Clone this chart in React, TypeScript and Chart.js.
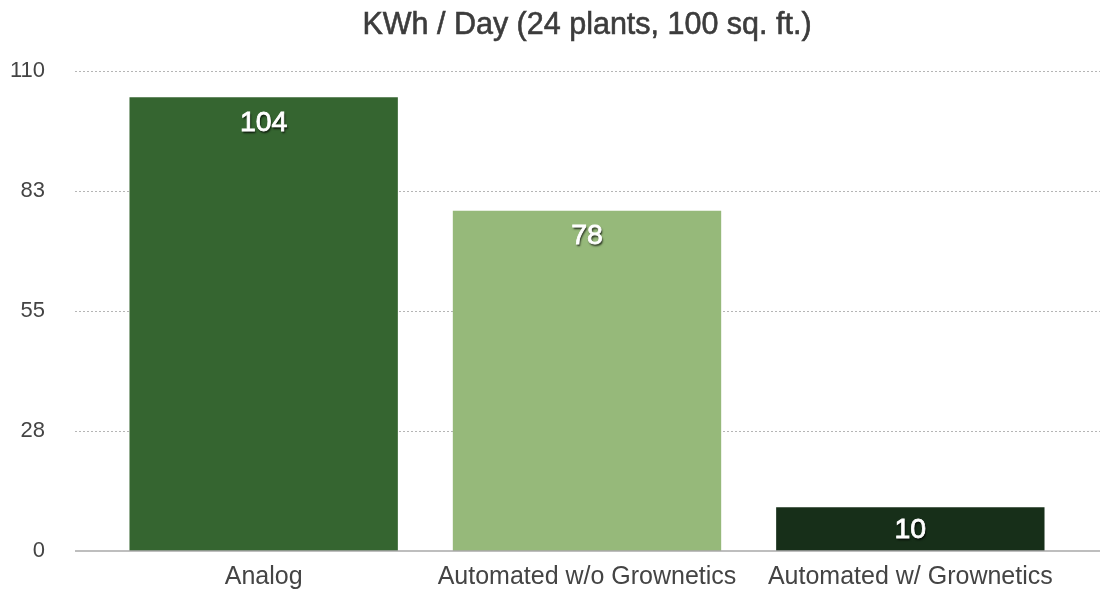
import { useEffect, useRef } from "react";
import { Chart, registerables } from "chart.js";

Chart.register(...registerables);

const chartTitle = "KWh / Day (24 plants, 100 sq. ft.)";
const categories = ["Analog", "Automated w/o Grownetics", "Automated w/ Grownetics"];
const kwhPerDay = [104, 78, 10];
const barColors = ["#356530", "#96b97a", "#172f19"];
const yTicks = [0, 27.5, 55, 82.5, 110];

const FONT = "'Liberation Sans', Arial, Helvetica, sans-serif";

// title, dotted grid, baseline and value labels
const decorPlugin = {
  id: "decor",
  beforeDatasetsDraw(chart: any) {
    const { ctx, chartArea, scales } = chart;
    const x0 = chartArea.left - 27;
    const x1 = chartArea.right + 28;
    ctx.save();
    ctx.strokeStyle = "#b5b5b5";
    ctx.lineWidth = 1;
    ctx.setLineDash([2, 2]);
    yTicks.forEach((v) => {
      if (v === 0) return;
      const y = Math.round(scales.y.getPixelForValue(v)) + 0.5;
      ctx.beginPath();
      ctx.moveTo(x0, y);
      ctx.lineTo(x1, y);
      ctx.stroke();
    });
    ctx.restore();

    ctx.save();
    ctx.font = `30.5px ${FONT}`;
    ctx.fillStyle = "#3c3c3c";
    ctx.strokeStyle = "#3c3c3c";
    ctx.lineWidth = 0.6;
    ctx.textAlign = "center";
    ctx.textBaseline = "middle";
    const cx = (chartArea.left + chartArea.right) / 2;
    ctx.fillText(chartTitle, cx, 26);
    ctx.strokeText(chartTitle, cx, 26);
    ctx.restore();
  },
  afterDatasetsDraw(chart: any) {
    const { ctx, chartArea, scales } = chart;
    ctx.save();
    ctx.strokeStyle = "#a8a8a8";
    ctx.lineWidth = 1.5;
    const y = scales.y.getPixelForValue(0);
    ctx.beginPath();
    ctx.moveTo(chartArea.left - 27, y);
    ctx.lineTo(chartArea.right + 28, y);
    ctx.stroke();

    const meta = chart.getDatasetMeta(0);
    ctx.font = `28.5px ${FONT}`;
    ctx.fillStyle = "#ffffff";
    ctx.strokeStyle = "#ffffff";
    ctx.lineWidth = 0.8;
    ctx.textAlign = "center";
    ctx.textBaseline = "middle";
    ctx.shadowColor = "rgba(0,0,0,0.8)";
    ctx.shadowOffsetX = 1;
    ctx.shadowOffsetY = 2;
    ctx.shadowBlur = 2;
    meta.data.forEach((bar: any, i: number) => {
      const ly = Math.min(bar.y + 25, (bar.y + bar.base) / 2);
      ctx.fillText(String(kwhPerDay[i]), bar.x, ly + 1);
      ctx.shadowColor = "transparent";
      ctx.strokeText(String(kwhPerDay[i]), bar.x, ly + 1);
      ctx.shadowColor = "rgba(0,0,0,0.8)";
    });
    ctx.restore();
  },
};

export default function App() {
  const ref = useRef<HTMLCanvasElement>(null);

  useEffect(() => {
    document.body.style.margin = "0";
    const chart = new Chart(ref.current as HTMLCanvasElement, {
      type: "bar",
      data: {
        labels: categories,
        datasets: [
          {
            data: kwhPerDay,
            backgroundColor: barColors,
            borderWidth: 0,
            categoryPercentage: 1,
            barPercentage: 0.83,
          },
        ],
      },
      options: {
        animation: false,
        responsive: false,
        layout: { autoPadding: false, padding: { left: 0, right: 38, top: 71, bottom: 0 } },
        plugins: {
          legend: { display: false },
          tooltip: { enabled: false },
          title: { display: false },
        },
        scales: {
          x: {
            grid: { display: false, drawTicks: false },
            border: { display: false },
            ticks: {
              color: "#444444",
              font: { family: FONT, size: 25 },
              padding: 11,
              maxRotation: 0,
              autoSkip: false,
            },
            afterFit: (s: any) => {
              s.height = 43;
            },
          },
          y: {
            min: 0,
            max: 110,
            grid: { display: false, drawTicks: false },
            border: { display: false },
            afterBuildTicks: (s: any) => {
              s.ticks = yTicks.map((v) => ({ value: v }));
            },
            ticks: {
              color: "#444444",
              font: { family: FONT, size: 22 },
              padding: 57,
              callback: (v: any) => String(Math.round(Number(v))),
            },
            afterFit: (s: any) => {
              s.width = 102;
              s.paddingTop = 0;
              s.paddingBottom = 0;
            },
          },
        },
      },
      plugins: [decorPlugin],
    });
    return () => {
      chart.destroy();
    };
  }, []);

  return <canvas ref={ref} width={1110} height={594} />;
}
